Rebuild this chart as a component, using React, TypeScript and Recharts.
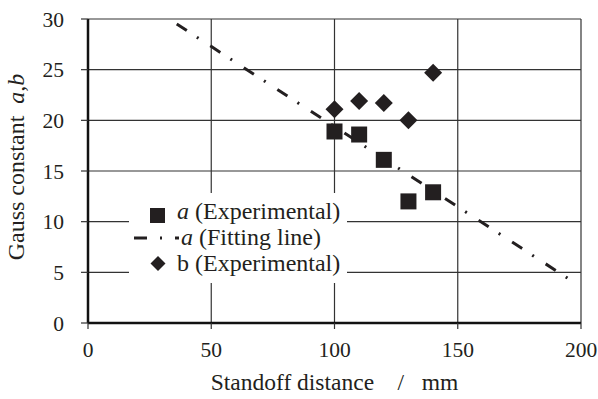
import React from 'react';
import { ComposedChart, Scatter, XAxis, YAxis, CartesianGrid } from 'recharts';

// standoff distance (mm) and measured Gauss constants
const standoff = [100, 110, 120, 130, 140];
const aExperimental = [18.9, 18.6, 16.1, 12.0, 12.9];
const bExperimental = [21.1, 21.9, 21.7, 20.0, 24.7];

// fitted line for a, two end points
const fitX = [36, 196];
const fitA = [29.5, 4.2];

const xTicks = [0, 50, 100, 150, 200];
const yTicks = [0, 5, 10, 15, 20, 25, 30];

const aData = standoff.map((x, i) => ({ x, y: aExperimental[i] }));
const bData = standoff.map((x, i) => ({ x, y: bExperimental[i] }));
const fitData = fitX.map((x, i) => ({ x, y: fitA[i] }));

const FONT = 'Liberation Serif';
const INK = '#231f20';
const DASH = '12 12 2 14';

const Square = (props: any) => {
  const { cx, cy } = props;
  return <rect x={cx - 8} y={cy - 8} width={16} height={16} fill={INK} />;
};

const Diamond = (props: any) => {
  const { cx, cy } = props;
  const r = 9;
  return <polygon points={`${cx},${cy - r} ${cx + r},${cy} ${cx},${cy + r} ${cx - r},${cy}`} fill={INK} />;
};

const NoDot = () => <g />;

// legend box drawn over the plot, like in the original figure
const LegendBox = () => (
  <div style={{ position: 'absolute', left: 129, top: 193, width: 218, height: 90, background: '#fff' }}>
    <svg width={218} height={90} style={{ display: 'block' }}>
      <g fontFamily={FONT} fontSize={24} fill={INK}>
        <rect x={21} y={15} width={15} height={15} fill={INK} />
        <text x={48} y={26}>
          <tspan fontStyle="italic">a</tspan> (Experimental)
        </text>
        <line x1={5} y1={45} x2={50} y2={45} stroke={INK} strokeWidth={3} strokeDasharray="13 13 2 13" />
        <text x={52} y={52}>
          <tspan fontStyle="italic">a</tspan> (Fitting line)
        </text>
        <polygon points="29,63 36.5,70.5 29,78 21.5,70.5" fill={INK} />
        <text x={48} y={78}>b (Experimental)</text>
      </g>
    </svg>
  </div>
);

const YLabel = (props: any) => {
  const vb = props.viewBox || { x: 0, y: 19, width: 88, height: 304 };
  const cx = vb.x + 16;
  const cy = vb.y + vb.height / 2 - 4;
  return (
    <text
      x={cx}
      y={cy}
      transform={`rotate(-90, ${cx}, ${cy})`}
      textAnchor="middle"
      dominantBaseline="central"
      fontFamily={FONT}
      fontSize={24}
      fill={INK}
    >
      Gauss constant{'\u00a0\u00a0'}
      <tspan fontStyle="italic">a</tspan>,<tspan fontStyle="italic">b</tspan>
    </text>
  );
};

export default function App() {
  return (
    <div style={{ position: 'absolute', left: 0, top: 0, width: 598, height: 399, background: '#fff', fontFamily: FONT }}>
      <ComposedChart
        width={598}
        height={399}
        margin={{ top: 19, right: 17, bottom: 0, left: 0 }}
        style={{ fontFamily: FONT }}
      >
        <CartesianGrid stroke="#333" strokeWidth={1.2} />
        <XAxis
          type="number"
          dataKey="x"
          domain={[0, 200]}
          ticks={xTicks}
          height={76}
          tickSize={6}
          tickMargin={13}
          axisLine={{ stroke: '#111', strokeWidth: 2.5 }}
          tickLine={{ stroke: '#333', strokeWidth: 1.2 }}
          tick={{ fill: INK, fontSize: 21.5, fontFamily: FONT }}
          label={{
            value: 'Standoff distance\u00a0\u00a0\u00a0\u00a0/\u00a0\u00a0\u00a0mm',
            position: 'insideBottom',
            offset: 9,
            fill: INK,
            fontSize: 23.5,
            fontFamily: FONT,
          }}
        />
        <YAxis
          type="number"
          dataKey="y"
          domain={[0, 30]}
          ticks={yTicks}
          width={88}
          tickSize={7}
          tickMargin={17}
          axisLine={{ stroke: '#111', strokeWidth: 2.5 }}
          tickLine={{ stroke: '#333', strokeWidth: 1.2 }}
          tick={{ fill: INK, fontSize: 21.5, fontFamily: FONT }}
          label={{ content: YLabel }}
        />
        <Scatter
          name="a (Fitting line)"
          data={fitData}
          line={{ stroke: INK, strokeWidth: 3, strokeDasharray: DASH }}
          lineType="joint"
          shape={NoDot}
          isAnimationActive={false}
        />
        <Scatter name="a (Experimental)" data={aData} shape={Square} isAnimationActive={false} />
        <Scatter name="b (Experimental)" data={bData} shape={Diamond} isAnimationActive={false} />
      </ComposedChart>
      <LegendBox />
    </div>
  );
}
